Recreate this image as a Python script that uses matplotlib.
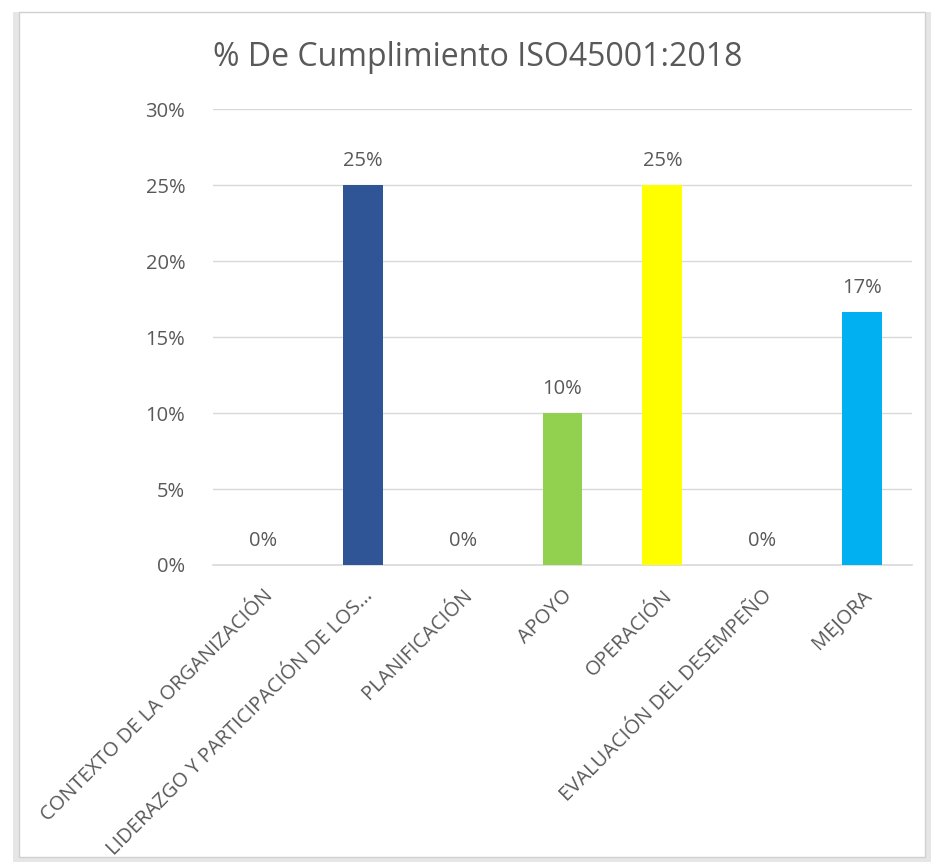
import numpy as np
import matplotlib
matplotlib.use("Agg")
import matplotlib.pyplot as plt
from matplotlib.patches import Rectangle

plt.rcParams['font.family'] = ['Open Sans', 'DejaVu Sans']

# data
categories = ["CONTEXTO DE LA ORGANIZACIÓN",
              "LIDERAZGO Y PARTICIPACIÓN DE LOS...",
              "PLANIFICACIÓN",
              "APOYO",
              "OPERACIÓN",
              "EVALUACIÓN DEL DESEMPEÑO",
              "MEJORA"]
values = [0.0, 0.25, 0.0, 0.10, 0.25, 0.0, 0.1667]
bar_colors = ["#2F5597", "#2F5597", "#2F5597", "#92D050", "#FFFF00", "#2F5597", "#00B0F0"]
yticks = [0, 0.05, 0.10, 0.15, 0.20, 0.25, 0.30]

txt = "#595959"
grid = "#d9d9d9"

fig = plt.figure(figsize=(9.31, 8.63), dpi=100)

# chart frame with shadow
W, H = 931, 863
shadow = Rectangle((13 / W, 1 - 862 / H), 918 / W, 850 / H, transform=fig.transFigure,
                   facecolor="#e6e6e6", edgecolor="none", zorder=-2)
fig.patches.append(shadow)
frame = Rectangle((19 / W, 1 - 857 / H), 906 / W, 845 / H, transform=fig.transFigure,
                  facecolor="white", edgecolor="#d0d0d0", lw=1, zorder=-1)
fig.patches.append(frame)

ax = fig.add_axes([213 / W, 1 - 565 / H, 699 / W, 456 / H])
ax.set_facecolor("none")

x = np.arange(len(categories))
ax.bar(x, values, width=0.4, color=bar_colors, zorder=3)

for xi, v in zip(x, values):
    ax.text(xi, v + 0.009, f"{v:.0%}", ha="center", va="bottom", fontsize=14.5, color=txt)

ax.set_xlim(-0.5, len(categories) - 0.5)
ax.set_ylim(0, 0.30)
ax.set_yticks(yticks)
ax.set_yticklabels([f"{t:.0%}" for t in yticks], fontsize=14.5, color=txt)
ax.yaxis.grid(True, color=grid, lw=1, zorder=0)
ax.set_axisbelow(True)
ax.tick_params(axis="y", length=0, pad=20)
ax.tick_params(axis="x", length=0, pad=15)
for s in ["top", "right", "left"]:
    ax.spines[s].set_visible(False)
ax.spines["bottom"].set_color(grid)
ax.spines["bottom"].set_linewidth(1.2)

ax.set_xticks(x)
ax.set_xticklabels(categories, rotation=45, ha="right", rotation_mode="anchor",
                   fontsize=14.5, color=txt)

fig.text(478 / W, 1 - 57 / H, "% De Cumplimiento ISO45001:2018", ha="center", va="center",
         fontsize=23, color=txt)

fig.savefig("out.png", dpi=100)
